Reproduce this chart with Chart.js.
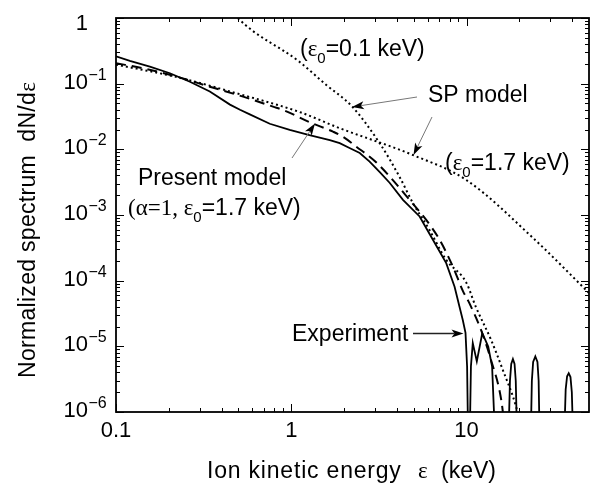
<!DOCTYPE html>
<html>
<head>
<meta charset="utf-8">
<script src="https://cdn.jsdelivr.net/npm/chart.js@4.4.1/dist/chart.umd.min.js"></script>
<style>
  body { margin: 0; background: #fff; }
</style>
</head>
<body>
<canvas id="myChart" width="603" height="485"></canvas>
<script>
// Experiment (solid line). null splits the small arches near the noise floor
const expX = [0.1, 0.12, 0.156, 0.203, 0.264, 0.343, 0.447, 0.51, 0.58, 0.754, 0.98, 1.27, 1.66, 1.89, 2.15, 2.46, 2.8, 3.2, 3.64, 4.34, 5.4, 6.43, 7.66, 8.55, 9.12, 9.53, 9.87, 10.08, 10.2,
  10.45, 10.6, 10.86, 11.45, 12.3, 12.8, 13.3, 14.0, 14.5, 14.6,
  17.4, 17.7, 18.0, 18.4, 18.8, 19.1, 19.4, 19.5,
  23.3, 23.6, 24.0, 24.7, 25.4, 25.8, 26.1, 26.2,
  36.2, 36.8, 37.5, 38.3, 39.2, 39.9, 40.5]
const expY = [0.26, 0.222, 0.182, 0.144, 0.107, 0.076, 0.048, 0.040, 0.034, 0.0245, 0.0198, 0.0165, 0.0138, 0.0124, 0.0105, 0.0088, 0.0065, 0.0045, 0.0031, 0.0017, 0.00095, 0.00042, 0.000185, 8.1e-5, 4.0e-5, 2.5e-5, 1.6e-5, 4.9e-6, 5e-7,
  5e-7, 5e-6, 1.12e-5, 5.9e-6, 1.58e-5, 1.25e-5, 9.9e-6, 4.9e-6, 5e-7, null,
  5e-7, 3e-6, 5.4e-6, 6.4e-6, 5.4e-6, 3e-6, 5e-7, null,
  5e-7, 3e-6, 5.8e-6, 7.0e-6, 5.8e-6, 3e-6, 5e-7, null,
  5e-7, 2.2e-6, 3.5e-6, 3.9e-6, 3.4e-6, 2e-6, 5e-7]

// Present model (dashed)
const modelX = [0.1, 0.143, 0.222, 0.343, 0.531, 0.787, 0.898, 1.27, 1.73, 1.97, 2.35, 3.06, 3.8, 4.73, 5.89, 7.02, 8.36, 9.53, 10.4, 12.1, 13.8, 15.8, 16.6]
const modelY = [0.205, 0.171, 0.128, 0.09, 0.0634, 0.0447, 0.0398, 0.026, 0.0186, 0.0156, 0.011, 0.0063, 0.0034, 0.0017, 0.00084, 0.00042, 0.000164, 7.0e-5, 4.5e-5, 1.78e-5, 6.2e-6, 1.5e-6, 5e-7]

// SP model, eps0 = 0.1 keV (dotted, steep)
const sp01X = [0.458, 0.496, 1.117, 1.585, 2.21, 3.24, 4.15, 4.94, 6.15, 7.66, 9.96, 11.3, 13.8, 16.1, 19.2, 20.0]
const sp01Y = [1.32, 1.0, 0.214, 0.0955, 0.0458, 0.0117, 0.0038, 0.00153, 5.9e-4, 2.07e-4, 9.4e-5, 4.0e-5, 1.26e-5, 4.4e-6, 1.2e-6, 7.6e-7]

// SP model, eps0 = 1.7 keV (dotted)
const sp17X = [0.1, 0.222, 0.509, 1.117, 1.89, 4.94, 9.96, 23.9, 50]
const sp17Y = [0.195, 0.126, 0.069, 0.037, 0.021, 0.0082, 0.00342, 0.00045, 6.5e-5]

// axes
const xMin = 0.1, xMax = 50
const yMin = 1e-6, yMax = 1
const xTicks = [0.1, 1, 10]
const xTickLabels = ['0.1', '1', '10']
const xMinorTicks = [0.2, 0.3, 0.4, 0.5, 0.6, 0.7, 0.8, 0.9, 2, 3, 4, 5, 6, 7, 8, 9, 20, 30, 40]
const yTickExps = [0, -1, -2, -3, -4, -5, -6]
const yMinorMant = [2, 3, 4, 5, 6, 7, 8, 9]

const SANS = '"Liberation Sans", Arial, sans-serif'
const SERIF = '"Liberation Serif", "Times New Roman", serif'

const toPts = (xs, ys) => xs.map((x, i) => ({x: x, y: ys[i]}))

function drawRich(ctx, x, y, segs) {
    segs.forEach(s => {
        ctx.font = s.f
        ctx.fillText(s.t, x, y + (s.dy || 0))
        x += ctx.measureText(s.t).width
    })
}

function arrow(ctx, x1, y1, x2, y2, color, w) {
    const a = Math.atan2(y2 - y1, x2 - x1)
    const L = 12, H = 4
    const bx = x2 - L * 0.75 * Math.cos(a), by = y2 - L * 0.75 * Math.sin(a)
    ctx.strokeStyle = color
    ctx.lineWidth = w
    ctx.beginPath()
    ctx.moveTo(x1, y1)
    ctx.lineTo(bx, by)
    ctx.stroke()
    ctx.fillStyle = '#000'
    ctx.beginPath()
    ctx.moveTo(x2, y2)
    ctx.lineTo(x2 - L * Math.cos(a) + H * Math.sin(a), y2 - L * Math.sin(a) - H * Math.cos(a))
    ctx.lineTo(bx, by)
    ctx.lineTo(x2 - L * Math.cos(a) - H * Math.sin(a), y2 - L * Math.sin(a) + H * Math.cos(a))
    ctx.closePath()
    ctx.fill()
}

// frame, inward ticks, labels and notes
const framePlugin = {
    id: 'frame',
    afterDatasetsDraw(chart) {
        const ctx = chart.ctx
        const area = chart.chartArea
        const xs = chart.scales.x, ys = chart.scales.y
        ctx.save()
        ctx.strokeStyle = '#000'
        ctx.lineWidth = 1
        // x ticks, bottom and top
        const xTick = (v, len) => {
            const p = Math.round(xs.getPixelForValue(v)) + 0.5
            ctx.beginPath()
            ctx.moveTo(p, area.bottom); ctx.lineTo(p, area.bottom - len)
            ctx.moveTo(p, area.top); ctx.lineTo(p, area.top + len)
            ctx.stroke()
        }
        xTicks.forEach(v => xTick(v, 8))
        xMinorTicks.forEach(v => xTick(v, 4))
        // y ticks, left and right
        const yTick = (v, len) => {
            const p = Math.round(ys.getPixelForValue(v)) + 0.5
            ctx.beginPath()
            ctx.moveTo(area.left, p); ctx.lineTo(area.left + len, p)
            ctx.moveTo(area.right, p); ctx.lineTo(area.right - len, p)
            ctx.stroke()
        }
        yTickExps.forEach(e => {
            yTick(Math.pow(10, e), 8)
            if (e > -6) yMinorMant.forEach(m => yTick(m * Math.pow(10, e - 1), 4))
        })
        // border
        ctx.lineWidth = 1.8
        ctx.strokeRect(area.left, area.top, area.right - area.left, area.bottom - area.top)

        ctx.fillStyle = '#000'
        ctx.textBaseline = 'alphabetic'
        // x tick labels
        ctx.font = '22px ' + SANS
        ctx.textAlign = 'center'
        xTicks.forEach((v, i) => ctx.fillText(xTickLabels[i], xs.getPixelForValue(v), 437))
        // y tick labels, 10 with superscript exponent
        yTickExps.forEach(e => {
            const p = ys.getPixelForValue(Math.pow(10, e))
            ctx.textAlign = 'right'
            ctx.font = '22px ' + SANS
            if (e === 0) {
                ctx.fillText('1', 88, p + 12)
                return
            }
            ctx.fillText('10', 88, p + 5)
            ctx.textAlign = 'left'
            ctx.font = '16px ' + SANS
            ctx.fillText('\u2212' + Math.abs(e), 88.5, p - 4)
        })

        // axis titles
        ctx.textAlign = 'left'
        ctx.letterSpacing = '0.8px'
        drawRich(ctx, 207, 478, [{t: 'Ion kinetic energy', f: '23px ' + SANS}])
        ctx.letterSpacing = '0px'
        drawRich(ctx, 418, 478, [{t: '\u03b5', f: '23px ' + SERIF}])
        drawRich(ctx, 441, 478, [{t: '(keV)', f: '23px ' + SANS}])

        ctx.save()
        ctx.translate(35, 378)
        ctx.rotate(-Math.PI / 2)
        ctx.letterSpacing = '0.3px'
        drawRich(ctx, 0, 0, [{t: 'Normalized spectrum  dN/d', f: '23px ' + SANS}, {t: '\u03b5', f: '23px ' + SERIF}])
        ctx.restore()
        ctx.letterSpacing = '0px'

        // notes
        drawRich(ctx, 300, 56, [{t: '(', f: '23px ' + SANS}, {t: '\u03b5', f: '23px ' + SERIF}, {t: '0', f: '15px ' + SANS, dy: 7}, {t: '=0.1 keV)', f: '23px ' + SANS}])
        drawRich(ctx, 428, 102, [{t: 'SP model', f: '23px ' + SANS}])
        drawRich(ctx, 445, 170, [{t: '(', f: '23px ' + SANS}, {t: '\u03b5', f: '23px ' + SERIF}, {t: '0', f: '15px ' + SANS, dy: 7}, {t: '=1.7 keV)', f: '23px ' + SANS}])
        drawRich(ctx, 138, 185, [{t: 'Present model', f: '23px ' + SANS}])
        drawRich(ctx, 128, 215, [{t: '(\u03b1=1, \u03b5', f: '23px ' + SERIF}, {t: '0', f: '15px ' + SANS, dy: 7}, {t: '=1.7 keV)', f: '23px ' + SANS}])
        drawRich(ctx, 292, 341, [{t: 'Experiment', f: '23px ' + SANS}])

        arrow(ctx, 417, 97, 352, 107, '#777', 1)
        arrow(ctx, 432, 117, 413.5, 155, '#777', 1)
        arrow(ctx, 292, 158, 315, 123.5, '#777', 1)
        arrow(ctx, 413, 333.5, 463.5, 333.5, '#222', 1.4)
        ctx.restore()
    }
}

const ctx = document.getElementById('myChart')

new Chart(ctx, {
    type: 'line',
    data: {
        datasets: [
            {
                label: 'Experiment',
                data: toPts(expX, expY),
                borderColor: '#000',
                borderWidth: 1.8,
                pointRadius: 0,
                tension: 0,
                clip: 0
            },
            {
                label: 'Present model',
                data: toPts(modelX, modelY),
                borderColor: '#000',
                borderWidth: 2,
                borderDash: [10, 6],
                pointRadius: 0,
                cubicInterpolationMode: 'monotone',
                clip: 0
            },
            {
                label: 'SP model (0.1 keV)',
                data: toPts(sp01X, sp01Y),
                borderColor: '#000',
                borderWidth: 2,
                borderDash: [2, 3],
                pointRadius: 0,
                cubicInterpolationMode: 'monotone',
                clip: 0
            },
            {
                label: 'SP model (1.7 keV)',
                data: toPts(sp17X, sp17Y),
                borderColor: '#000',
                borderWidth: 2,
                borderDash: [2, 3],
                pointRadius: 0,
                cubicInterpolationMode: 'monotone',
                clip: 0
            }
        ]
    },
    options: {
        responsive: false,
        devicePixelRatio: 1,
        animation: false,
        layout: {
            padding: {left: 116, right: 14, top: 18, bottom: 73}
        },
        plugins: {
            legend: {display: false},
            tooltip: {enabled: false}
        },
        scales: {
            x: {type: 'logarithmic', min: xMin, max: xMax, display: false},
            y: {type: 'logarithmic', min: yMin, max: yMax, display: false}
        }
    },
    plugins: [framePlugin]
});
</script>
</body>
</html>
